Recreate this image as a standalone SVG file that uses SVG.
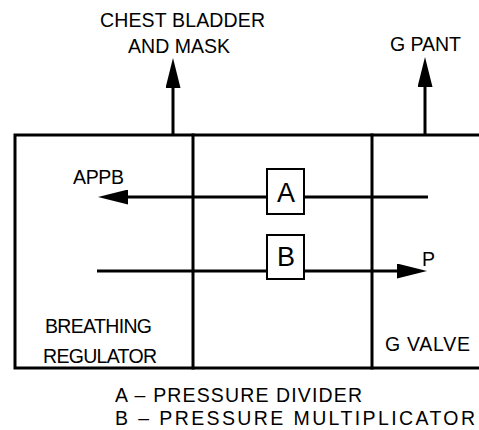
<svg xmlns="http://www.w3.org/2000/svg" width="479" height="430" viewBox="0 0 479 430">
<style>
.frame{stroke:#000;stroke-width:3;fill:none;stroke-linecap:square}
.conn{stroke:#000;stroke-width:3;fill:none}
.box{stroke:#000;stroke-width:2;fill:#fff}
text{font-family:"Liberation Sans",Arial,sans-serif;fill:#000}
.lbl{font-size:19.5px}
.big{font-size:27px;text-anchor:middle}
</style>
<defs>
<marker id="ah" viewBox="0 0 30 15" refX="15" refY="7.5" markerWidth="30" markerHeight="15" markerUnits="userSpaceOnUse" orient="auto">
<path d="M0,0 L30,7.5 L0,15 z" fill="#000"/>
</marker>
</defs>
<rect width="479" height="430" fill="#fff"/>
<g id="frame">
<path class="frame" d="M479,135 H15 V368 H479"/>
</g>
<g id="breathing-regulator">
<text class="lbl" x="45" y="333" textLength="107">BREATHING</text>
<text class="lbl" x="43" y="363" textLength="114">REGULATOR</text>
</g>
<g id="middle-section">
<line class="frame" x1="193" y1="135" x2="193" y2="368"/>
</g>
<g id="g-valve">
<line class="frame" x1="372" y1="135" x2="372" y2="368"/>
<text class="lbl" x="385" y="351" textLength="85">G VALVE</text>
</g>
<g id="connectors">
<line class="conn" x1="173" y1="135" x2="173" y2="73" marker-end="url(#ah)"/>
<line class="conn" x1="425" y1="135" x2="425" y2="72" marker-end="url(#ah)"/>
<line class="conn" x1="428" y1="197" x2="304" y2="197"/>
<line class="conn" x1="267" y1="197" x2="113" y2="197" marker-end="url(#ah)"/>
<line class="conn" x1="97" y1="271" x2="267" y2="271"/>
<line class="conn" x1="304" y1="271" x2="412" y2="271" marker-end="url(#ah)"/>
</g>
<g id="chest-bladder">
<text class="lbl" x="100" y="27" textLength="165">CHEST BLADDER</text>
<text class="lbl" x="128" y="53" textLength="102">AND MASK</text>
</g>
<g id="g-pant">
<text class="lbl" x="390" y="51" textLength="71">G PANT</text>
</g>
<g id="appb">
<text class="lbl" x="73" y="184" textLength="51">APPB</text>
</g>
<g id="p">
<text class="lbl" x="422" y="266">P</text>
</g>
<g id="box-a">
<rect class="box" x="267" y="169" width="37" height="45"/>
<text class="big" x="286" y="202">A</text>
</g>
<g id="box-b">
<rect class="box" x="267" y="235" width="37" height="44"/>
<text class="big" x="286" y="266">B</text>
</g>
<g id="legend">
<text class="lbl" x="115" y="402" textLength="247">A – PRESSURE DIVIDER</text>
<text class="lbl" x="115" y="425" textLength="360">B – PRESSURE MULTIPLICATOR</text>
</g>
</svg>
